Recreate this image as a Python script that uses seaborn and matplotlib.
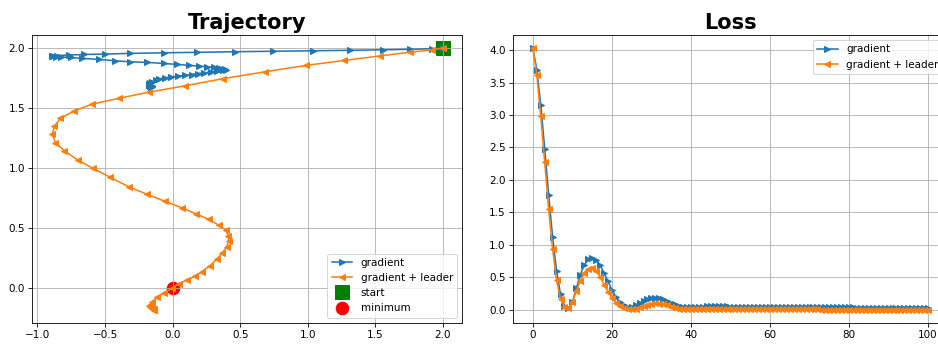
import matplotlib
matplotlib.use("Agg")
from matplotlib import pyplot as plt
import seaborn as sns

# 001 : Data
# trajectory of plain gradient descent
grad_x = [2.000, 1.917, 1.756, 1.559, 1.313, 1.042, 0.746, 0.463, 0.180, -0.066,
          -0.313, -0.497, -0.658, -0.768, -0.854, -0.888, -0.893, -0.866, -0.829, -0.755,
          -0.667, -0.545, -0.423, -0.312, -0.189, -0.066, 0.033, 0.119, 0.192, 0.254,
          0.304, 0.340, 0.365, 0.385, 0.393, 0.372, 0.330, 0.282, 0.236, 0.190,
          0.140, 0.090, 0.040, -0.010, -0.058, -0.097, -0.126, -0.150, -0.165, -0.172,
          -0.175, -0.174, -0.170, -0.165, -0.160, -0.156, -0.153, -0.152, -0.153, -0.155,
          -0.157, -0.158, -0.158, -0.157, -0.156]
grad_y = [2.000, 1.995, 1.990, 1.986, 1.982, 1.978, 1.974, 1.970, 1.965, 1.961,
          1.956, 1.951, 1.947, 1.942, 1.938, 1.934, 1.931, 1.929, 1.926, 1.922,
          1.914, 1.906, 1.894, 1.886, 1.881, 1.872, 1.864, 1.856, 1.850, 1.844,
          1.839, 1.833, 1.828, 1.824, 1.820, 1.816, 1.810, 1.802, 1.794, 1.788,
          1.780, 1.772, 1.766, 1.760, 1.752, 1.744, 1.733, 1.719, 1.706, 1.700,
          1.696, 1.693, 1.690, 1.688, 1.686, 1.684, 1.683, 1.682, 1.681, 1.680,
          1.679, 1.678, 1.677, 1.676, 1.675]

# trajectory of gradient + leader
lead_x = [2.000, 1.917, 1.756, 1.535, 1.270, 0.987, 0.685, 0.371, 0.094, -0.171,
          -0.399, -0.596, -0.731, -0.830, -0.874, -0.891, -0.867, -0.800, -0.702, -0.588,
          -0.460, -0.325, -0.189, -0.054, 0.069, 0.175, 0.266, 0.340, 0.395, 0.412,
          0.415, 0.400, 0.368, 0.328, 0.274, 0.217, 0.168, 0.106, 0.044, -0.004,
          -0.066, -0.115, -0.152, -0.170, -0.172, -0.163, -0.152, -0.143, -0.137, -0.134,
          -0.134, -0.136, -0.138, -0.140]
lead_y = [2.000, 1.985, 1.966, 1.935, 1.897, 1.856, 1.803, 1.745, 1.686, 1.634,
          1.581, 1.533, 1.475, 1.414, 1.350, 1.283, 1.211, 1.144, 1.067, 0.997,
          0.922, 0.844, 0.781, 0.722, 0.668, 0.617, 0.572, 0.525, 0.483, 0.435,
          0.390, 0.343, 0.292, 0.240, 0.183, 0.136, 0.100, 0.067, 0.033, -0.003,
          -0.044, -0.078, -0.114, -0.142, -0.154, -0.164, -0.171, -0.176, -0.179, -0.180,
          -0.181, -0.181, -0.181, -0.181]

start_xy = (2.0, 2.0)
minimum_xy = (0.0, 0.0)

# loss per iteration
loss_grad = [4.03, 3.70, 3.16, 2.48, 1.77, 1.12, 0.60, 0.24, 0.06, 0.03,
             0.12, 0.33, 0.54, 0.69, 0.78, 0.80, 0.77, 0.69, 0.57, 0.44,
             0.31, 0.20, 0.12, 0.07, 0.045, 0.05, 0.07, 0.10, 0.13, 0.16,
             0.18, 0.185, 0.175, 0.16, 0.135, 0.11, 0.085, 0.065, 0.05, 0.045,
             0.04, 0.04, 0.045, 0.05, 0.055, 0.06, 0.065, 0.065, 0.06, 0.055,
             0.05, 0.045, 0.04, 0.04, 0.04, 0.04, 0.045, 0.045, 0.045, 0.045,
             0.045, 0.045, 0.04, 0.04, 0.04, 0.04, 0.04, 0.04, 0.04, 0.04,
             0.04, 0.04, 0.04, 0.04, 0.04, 0.04, 0.04, 0.04, 0.04, 0.04,
             0.04, 0.04, 0.035, 0.035, 0.035, 0.035, 0.035, 0.035, 0.035, 0.035,
             0.035, 0.035, 0.035, 0.035, 0.035, 0.035, 0.035, 0.035, 0.035, 0.035,
             0.035]
loss_leader = [4.03, 3.62, 2.98, 2.27, 1.55, 0.93, 0.46, 0.17, 0.04, 0.03,
               0.12, 0.29, 0.45, 0.57, 0.63, 0.64, 0.60, 0.51, 0.39, 0.28,
               0.18, 0.11, 0.06, 0.03, 0.015, 0.01, 0.02, 0.04, 0.06, 0.08,
               0.09, 0.10, 0.095, 0.085, 0.07, 0.05, 0.035, 0.02, 0.012, 0.008,
               0.007, 0.008, 0.01, 0.013, 0.016, 0.018, 0.02, 0.02, 0.018, 0.015,
               0.012, 0.01, 0.008, 0.008, 0.008, 0.009, 0.01, 0.011, 0.011, 0.011,
               0.01, 0.009, 0.008, 0.007, 0.007, 0.007, 0.007, 0.007, 0.006, 0.006,
               0.006, 0.006, 0.006, 0.005, 0.005, 0.005, 0.005, 0.005, 0.005, 0.005,
               0.005, 0.004, 0.004, 0.004, 0.004, 0.004, 0.004, 0.004, 0.004, 0.004,
               0.004, 0.003, 0.003, 0.003, 0.003, 0.003, 0.003, 0.003, 0.003, 0.003,
               0.003]
steps = list(range(len(loss_grad)))

# 002 : Figure
fig = plt.figure(figsize=(938 / 75, 347 / 75), dpi=75)
ax1 = fig.add_axes([0.0345, 0.070, 0.4585, 0.829])
ax2 = fig.add_axes([0.547, 0.070, 0.4635, 0.829])

# Trajectory
sns.lineplot(x=grad_x, y=grad_y, sort=False, estimator=None, ax=ax1,
             color='C0', marker='>', mec='C0', mew=1, label='gradient')
sns.lineplot(x=lead_x, y=lead_y, sort=False, estimator=None, ax=ax1,
             color='C1', marker='<', mec='C1', mew=1, label='gradient + leader')
ax1.plot([start_xy[0]], [start_xy[1]], 's', color='green', markersize=13, zorder=1.5, label='start')
ax1.plot([minimum_xy[0]], [minimum_xy[1]], 'o', color='red', markersize=12, zorder=1.5, label='minimum')
ax1.set_title('Trajectory', fontsize=20, fontweight='bold')
ax1.grid(True)
ax1.legend(loc='lower right')

# Loss
sns.lineplot(x=steps, y=loss_grad, ax=ax2, color='C0', marker='>', mec='C0', mew=1, label='gradient')
sns.lineplot(x=steps, y=loss_leader, ax=ax2, color='C1', marker='<', mec='C1', mew=1, label='gradient + leader')
ax2.set_title('Loss', fontsize=20, fontweight='bold')
ax2.grid(True)
ax2.legend(loc='upper right')

fig.savefig('out.png', dpi=75)
